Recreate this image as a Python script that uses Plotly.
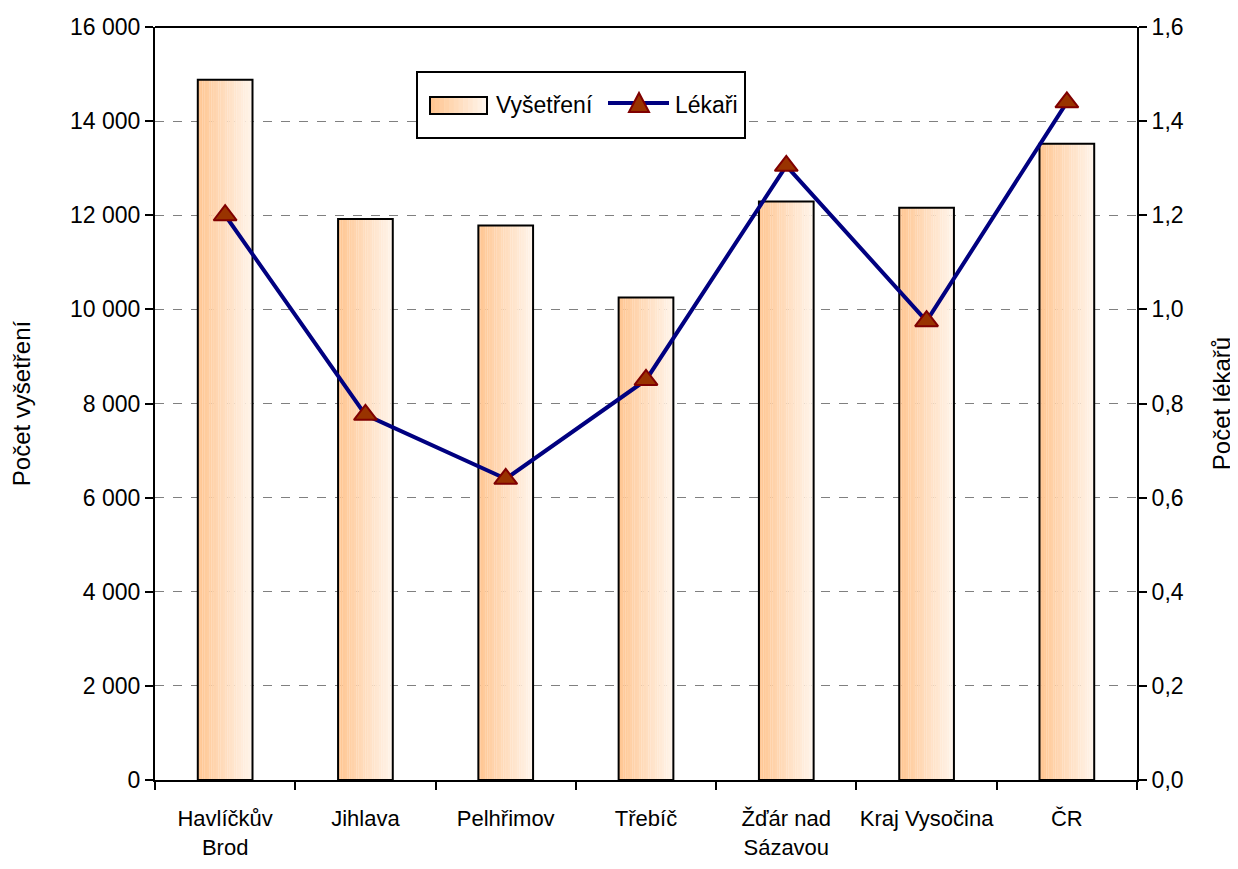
import plotly.graph_objects as go

categories = ["Havlíčkův<br>Brod", "Jihlava", "Pelhřimov", "Třebíč", "Žďár nad<br>Sázavou", "Kraj Vysočina", "ČR"]
vysetreni = [14880, 11920, 11780, 10250, 12290, 12160, 13520]
lekari = [1.20, 0.776, 0.64, 0.85, 1.305, 0.975, 1.44]
left_ticks = [0, 2000, 4000, 6000, 8000, 10000, 12000, 14000, 16000]
right_ticks = [0, 0.2, 0.4, 0.6, 0.8, 1.0, 1.2, 1.4, 1.6]
series_names = ["Vyšetření", "Lékaři"]

FONT = "Liberation Sans"
BAR_W = 0.39
N = 24
c0 = (255, 198, 146)
c1 = (255, 244, 234)

def grad(t):
    return "rgb(%d,%d,%d)" % tuple(round(a + (b - a) * t) for a, b in zip(c0, c1))

# plot area in page pixels (page has 8px body margin)
PX0, PX1, PY0, PY1 = 155, 1137, 27, 780
def px(x):
    return (x - PX0) / (PX1 - PX0)
def py(y):
    return (PY1 - y) / (PY1 - PY0)

fig = go.Figure()
for i in range(N):
    fig.add_trace(go.Bar(
        x=categories, y=vysetreni, width=BAR_W / N * 1.05,
        offset=-BAR_W / 2 + i * BAR_W / N,
        marker=dict(color=grad(i / (N - 1)), line=dict(width=0)),
        showlegend=False, hoverinfo="skip"))
fig.add_trace(go.Bar(
    x=categories, y=vysetreni, width=BAR_W, offset=-BAR_W / 2,
    marker=dict(color="rgba(0,0,0,0)", line=dict(color="black", width=2)),
    showlegend=False, name=series_names[0]))
fig.add_trace(go.Scatter(
    x=categories, y=lekari, yaxis="y2", name=series_names[1],
    mode="lines+markers", showlegend=False,
    line=dict(color="#000080", width=4),
    marker=dict(symbol="triangle-up", size=20, color="#993300",
                line=dict(color="#800000", width=2))))

shapes = [dict(type="line", xref="paper", yref="paper", x0=0, x1=1, y0=1, y1=1,
               line=dict(color="black", width=2))]
# manual legend
shapes.append(dict(type="rect", xref="paper", yref="paper",
                   x0=px(417), x1=px(745), y0=py(138), y1=py(72),
                   fillcolor="white", line=dict(color="black", width=2), layer="above"))
M = 12
sx0, sx1 = 430, 487
for i in range(M):
    a = sx0 + (sx1 - sx0) * i / M
    b = sx0 + (sx1 - sx0) * (i + 1) / M + 0.5
    shapes.append(dict(type="rect", xref="paper", yref="paper",
                       x0=px(a), x1=px(b), y0=py(114), y1=py(97),
                       fillcolor=grad(i / (M - 1)), line=dict(width=0), layer="above"))
shapes.append(dict(type="rect", xref="paper", yref="paper",
                   x0=px(sx0), x1=px(sx1), y0=py(114), y1=py(97),
                   line=dict(color="black", width=2), layer="above"))
shapes.append(dict(type="line", xref="paper", yref="paper",
                   x0=px(608), x1=px(669), y0=py(103), y1=py(103),
                   line=dict(color="#000080", width=4), layer="above"))
tx, ty = 639, 105
shapes.append(dict(type="path", xref="paper", yref="paper",
                   path="M %f,%f L %f,%f L %f,%f Z" % (px(tx - 10), py(ty + 7), px(tx + 10), py(ty + 7), px(tx), py(ty - 12)),
                   fillcolor="#993300", line=dict(color="#800000", width=2), layer="above"))

annotations = [
    dict(text=series_names[0], xref="paper", yref="paper", x=px(494), y=py(105),
         xanchor="left", yanchor="middle", showarrow=False, font=dict(size=23)),
    dict(text=series_names[1], xref="paper", yref="paper", x=px(673), y=py(105),
         xanchor="left", yanchor="middle", showarrow=False, font=dict(size=23)),
]

fig.update_layout(
    width=1238, height=869,
    margin=dict(l=147, r=109, t=19, b=97),
    paper_bgcolor="white", plot_bgcolor="white",
    barmode="overlay",
    separators=", ",
    font=dict(family=FONT, size=23, color="black"),
    showlegend=False,
    xaxis=dict(showline=True, linecolor="black", linewidth=2, automargin=False,
               ticks="outside", tickson="boundaries", ticklen=8, tickwidth=2,
               tickcolor="black", showgrid=False, range=[-0.5, 6.5], tickangle=0,
               tickfont=dict(size=22), ticklabelstandoff=18),
    yaxis=dict(range=[0, 16000], tickvals=left_ticks, tickformat=",d", automargin=False,
               showline=True, linecolor="black", linewidth=2,
               ticks="outside", ticklen=8, tickwidth=2, tickcolor="black",
               showgrid=True, gridcolor="#808080", griddash="dash", gridwidth=1,
               zeroline=False,
               title=dict(text="Počet vyšetření", standoff=33, font=dict(size=24))),
    yaxis2=dict(range=[0, 1.6], tickvals=right_ticks, tickformat=".1f", automargin=False,
                overlaying="y", side="right",
                showline=True, linecolor="black", linewidth=2,
                ticks="outside", ticklen=8, tickwidth=2, tickcolor="black",
                showgrid=False, zeroline=False,
                title=dict(text="Počet lékařů", standoff=30, font=dict(size=24))),
    shapes=shapes,
    annotations=annotations,
)

fig.write_html("out.html")
